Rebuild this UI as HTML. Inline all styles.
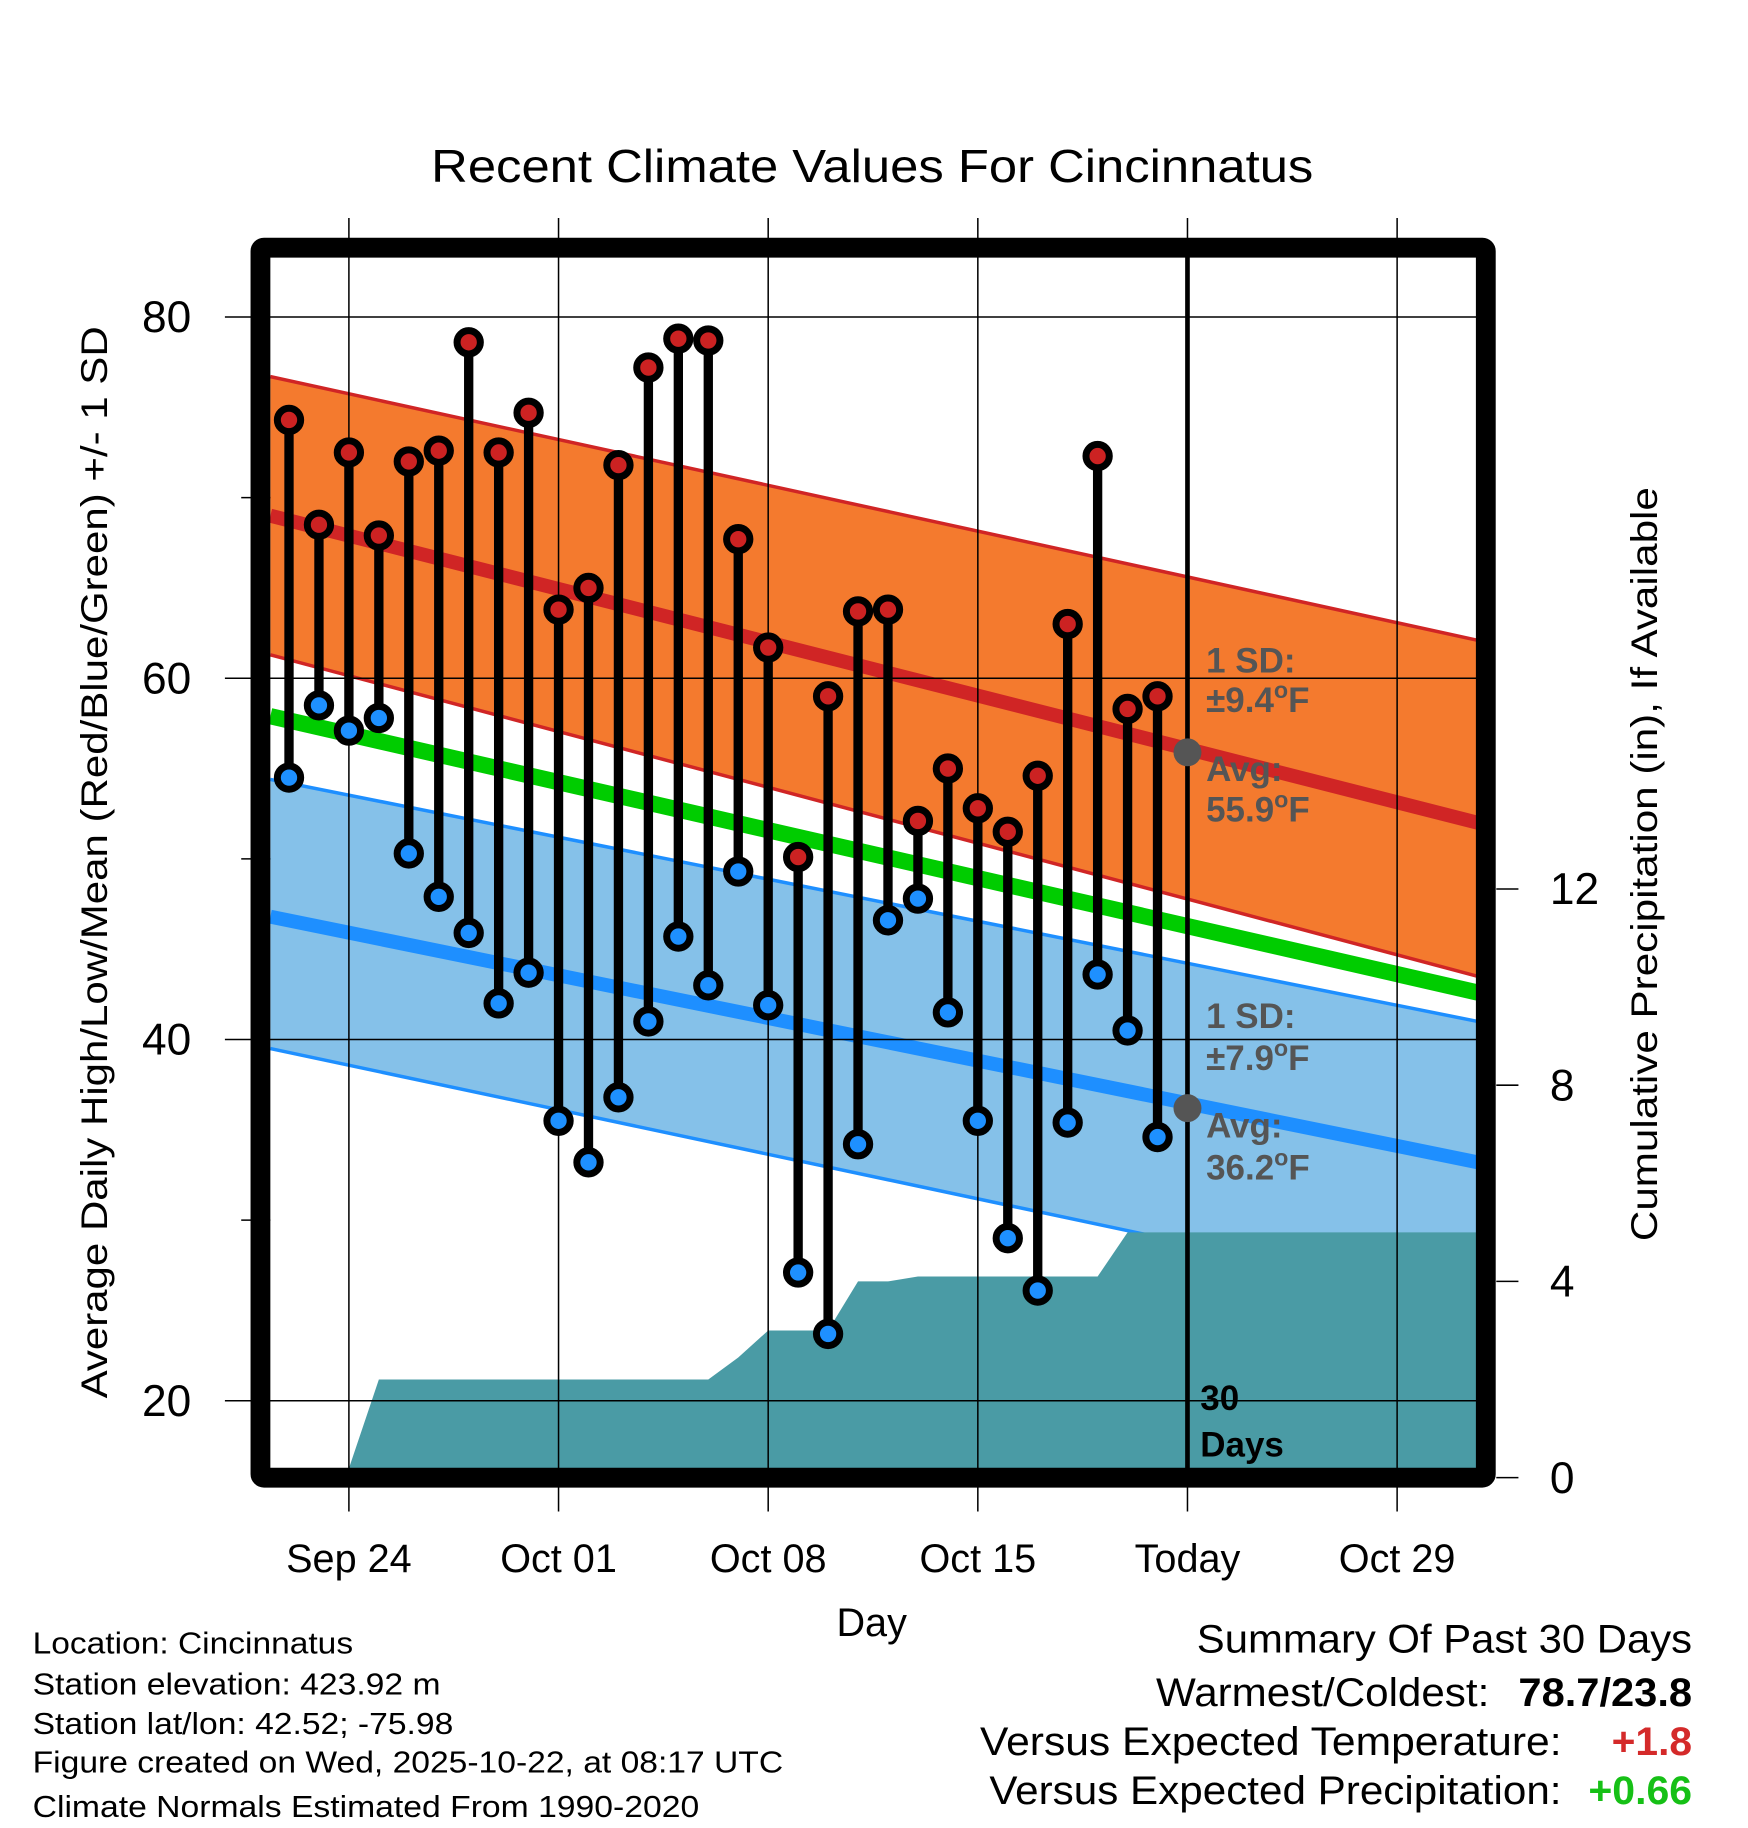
<!DOCTYPE html>
<html><head><meta charset="utf-8"><style>
html,body{margin:0;padding:0;background:#fff}
svg{display:block;font-family:"Liberation Sans",Arial,sans-serif}
</style></head><body>
<svg id="chart" width="1748" height="1828" viewBox="0 0 1500 1568.6" xmlns="http://www.w3.org/2000/svg">
<text x="370" y="156" font-size="40" textLength="757" lengthAdjust="spacingAndGlyphs">Recent Climate Values For Cincinnatus</text>
<g id="plot"></g>
<text transform="translate(92,1200) rotate(-90)" font-size="32" textLength="920" lengthAdjust="spacingAndGlyphs">Average Daily High/Low/Mean (Red/Blue/Green) +/- 1 SD</text>
<text transform="translate(1422,1065) rotate(-90)" font-size="32" textLength="647" lengthAdjust="spacingAndGlyphs">Cumulative Precipitation (in), If Available</text>
<text x="748" y="1404" font-size="34" text-anchor="middle">Day</text>
<g font-size="26">
<text x="28" y="1419" textLength="275" lengthAdjust="spacingAndGlyphs">Location: Cincinnatus</text>
<text x="28" y="1454" textLength="350" lengthAdjust="spacingAndGlyphs">Station elevation: 423.92 m</text>
<text x="28" y="1488" textLength="361" lengthAdjust="spacingAndGlyphs">Station lat/lon: 42.52; -75.98</text>
<text x="28" y="1521" textLength="644" lengthAdjust="spacingAndGlyphs">Figure created on Wed, 2025-10-22, at 08:17 UTC</text>
<text x="28" y="1559" textLength="572" lengthAdjust="spacingAndGlyphs">Climate Normals Estimated From 1990-2020</text>
</g>
<g font-size="34">
<text x="1027" y="1418" textLength="425" lengthAdjust="spacingAndGlyphs">Summary Of Past 30 Days</text>
<text x="992" y="1464" textLength="286" lengthAdjust="spacingAndGlyphs">Warmest/Coldest:</text>
<text x="1303" y="1464" font-weight="bold" textLength="149" lengthAdjust="spacingAndGlyphs">78.7/23.8</text>
<text x="841" y="1506" textLength="499" lengthAdjust="spacingAndGlyphs">Versus Expected Temperature:</text>
<text x="1383" y="1506" font-weight="bold" fill="#d42a2a" textLength="69" lengthAdjust="spacingAndGlyphs">+1.8</text>
<text x="849" y="1548" textLength="491" lengthAdjust="spacingAndGlyphs">Versus Expected Precipitation:</text>
<text x="1363" y="1548" font-weight="bold" fill="#16c016" textLength="89" lengthAdjust="spacingAndGlyphs">+0.66</text>
</g>
</svg>
<script>
const days = ["Sep22","Sep23","Sep24","Sep25","Sep26","Sep27","Sep28","Sep29","Sep30","Oct01","Oct02","Oct03","Oct04","Oct05","Oct06","Oct07","Oct08","Oct09","Oct10","Oct11","Oct12","Oct13","Oct14","Oct15","Oct16","Oct17","Oct18","Oct19","Oct20","Oct21"];
const highs = [74.3,68.5,72.5,67.9,72.0,72.6,78.6,72.5,74.7,63.8,65.0,71.8,77.2,78.8,78.7,67.7,61.7,50.1,59.0,63.7,63.8,52.1,55.0,52.8,51.5,54.6,63.0,72.3,58.3,59.0];
const lows = [54.5,58.5,57.1,57.8,50.3,47.9,45.9,42.0,43.7,35.5,33.2,36.8,41.0,45.7,43.0,49.3,41.9,27.1,23.7,34.2,46.6,47.8,41.5,35.5,29.0,26.1,35.4,43.6,40.5,34.6];
const precip = [0,0,0,2.0,2.0,2.0,2.0,2.0,2.0,2.0,2.0,2.0,2.0,2.0,2.0,2.45,3.0,3.0,3.0,4.0,4.0,4.1,4.1,4.1,4.1,4.1,4.1,4.1,5.0,5.0];
const normHighMean = [69.0,52.0];
const normHighUpper = [76.7,62.1];
const normHighLower = [61.3,43.5];
const normLowMean = [46.8,33.2];
const normLowUpper = [54.4,41.0];
const normLowLower = [39.5,25.3];
const normMean = [57.9,42.6];
const yTicks = [80,60,40,20];
const yMinor = [70,50,30];
const y2Ticks = [0,4,8,12];
const xTickLabels = ["Sep 24","Oct 01","Oct 08","Oct 15","Today","Oct 29"];
const xTickDays = [2,9,16,23,30,37];

const NS="http://www.w3.org/2000/svg";
const L=232,R=1268,T=223,B=1260;
const xs=d=>248+25.7*d;
const ys=t=>272+(80-t)*15.5;
const yp=p=>1268-p*42.1;
const g=document.getElementById('plot');
function mk(tag,attrs,parent){const e=document.createElementNS(NS,tag);for(const k in attrs)e.setAttribute(k,attrs[k]);(parent||g).appendChild(e);return e;}

function band(up,lo,fill,name){const e=mk('polygon',{points:`${L},${ys(up[0])} ${R},${ys(up[1])} ${R},${ys(lo[1])} ${L},${ys(lo[0])}`,fill:fill});

}
function line(v,col,w,name){const e=mk('line',{x1:L,y1:ys(v[0]),x2:R,y2:ys(v[1]),stroke:col,'stroke-width':w});

}
band(normHighUpper,normHighLower,'#f47a2e','high-sd-band');
line(normHighUpper,'#d02525',3,'high-upper-line');
line(normHighLower,'#d02525',3,'high-lower-line');
band(normLowUpper,normLowLower,'#85c1e9','low-sd-band');
line(normLowUpper,'#1e8fff',3,'low-upper-line');
line(normLowLower,'#1e8fff',3,'low-lower-line');
line(normMean,'#00cc00',14,'mean-normal-line');
line(normHighMean,'#d02525',12,'high-normal-line');
line(normLowMean,'#1e8fff',12,'low-normal-line');

let pts=`${xs(2)-3},${B} `;
for(let i=2;i<precip.length;i++){pts+=`${xs(i)},${Math.min(B,yp(precip[i]))} `;}
pts+=`${R},${yp(precip[precip.length-1])} ${R},${B} ${L},${B} ${L},${B}`;
const pe=mk('polygon',{points:pts,fill:'#4a9ba5'});



yTicks.forEach(t=>{const e=mk('line',{x1:193,y1:ys(t),x2:R,y2:ys(t),stroke:'#000','stroke-width':1.3});


const tx=mk('text',{x:143,y:ys(t)+13,'font-size':38,'text-anchor':'middle'});tx.textContent=t;

});
yMinor.forEach(t=>{const e=mk('line',{x1:207,y1:ys(t),x2:L,y2:ys(t),stroke:'#000','stroke-width':1.3});

});
xTickDays.forEach((d,i)=>{const x=xs(d);const e=mk('line',{x1:x,y1:187,x2:x,y2:1297,stroke:'#000','stroke-width':1.3});


const tx=mk('text',{x:x,y:1349,'font-size':34,'text-anchor':'middle'});tx.textContent=xTickLabels[i];

});
y2Ticks.forEach(p=>{const e=mk('line',{x1:1284,y1:yp(p),x2:1303,y2:yp(p),stroke:'#000','stroke-width':1.3});


const tx=mk('text',{x:1330,y:yp(p)+13,'font-size':38});tx.textContent=p;

});

const tl=mk('line',{x1:xs(30),y1:T-5,x2:xs(30),y2:B,stroke:'#000','stroke-width':4});



function txt(x,y,s,fs,fill,name,html){const e=mk('text',{x:x,y:y,'font-size':fs,'font-weight':'bold',fill:fill});if(html)e.innerHTML=s;else e.textContent=s;

}
txt(1035,577,'1 SD:',30,'#555','high-sd-label');
txt(1035,611,'±9.4<tspan dy="-12" font-size="20">o</tspan><tspan dy="12">F</tspan>',30,'#555','high-sd-value',true);
txt(1035,670,'Avg:',30,'#555','high-avg-label');
txt(1035,705,'55.9<tspan dy="-12" font-size="20">o</tspan><tspan dy="12">F</tspan>',30,'#555','high-avg-value',true);
txt(1035,882,'1 SD:',30,'#555','low-sd-label');
txt(1035,918,'±7.9<tspan dy="-12" font-size="20">o</tspan><tspan dy="12">F</tspan>',30,'#555','low-sd-value',true);
txt(1035,976,'Avg:',30,'#555','low-avg-label');
txt(1035,1012,'36.2<tspan dy="-12" font-size="20">o</tspan><tspan dy="12">F</tspan>',30,'#555','low-avg-value',true);
txt(1030,1210,'30',30,'#000','days-label-30');
txt(1030,1250,'Days',30,'#000','days-label');
[[55.9,'today-high-avg-dot'],[36.2,'today-low-avg-dot']].forEach(([v,n])=>{const c=mk('circle',{cx:xs(30),cy:ys(v),r:12,fill:'#555'});

});

days.forEach((d,i)=>{const x=xs(i);
const s=mk('line',{x1:x,y1:ys(highs[i]),x2:x,y2:ys(lows[i]),stroke:'#000','stroke-width':8});


const h=mk('circle',{cx:x,cy:ys(highs[i]),r:10,fill:'#cc2222',stroke:'#000','stroke-width':6});


const lo=mk('circle',{cx:x,cy:ys(lows[i]),r:10,fill:'#1e90ff',stroke:'#000','stroke-width':6});

});

const fr=mk('rect',{x:223.5,y:212.5,width:1051.5,height:1055.5,fill:'none',stroke:'#000','stroke-width':17,rx:3});


</script>
</body></html>
